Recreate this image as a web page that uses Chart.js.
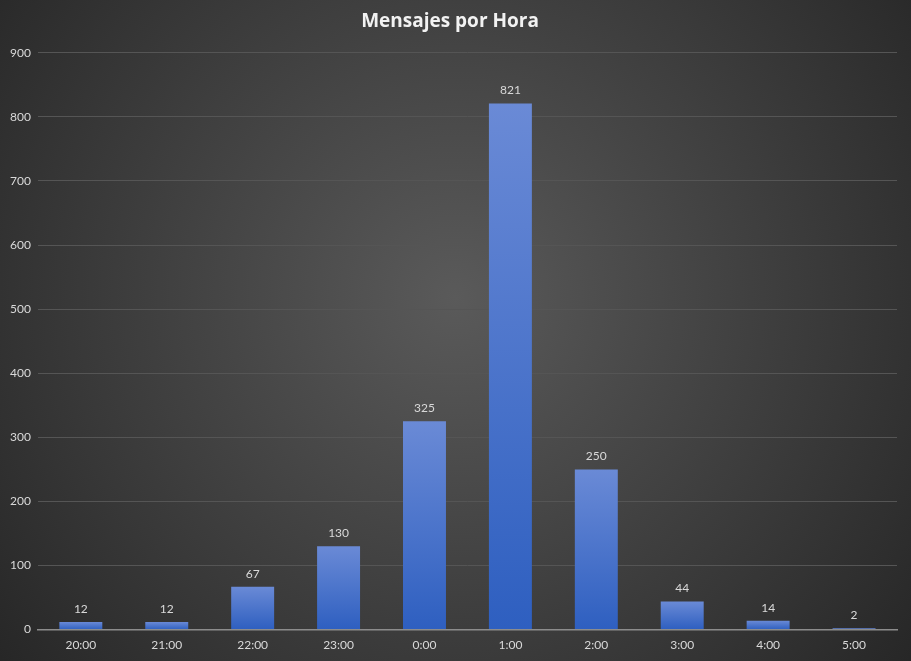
<!DOCTYPE html>
<html><head><meta charset="utf-8">
<script src="https://cdn.jsdelivr.net/npm/chart.js@4/dist/chart.umd.min.js"></script>
<style>html,body{margin:0;padding:0;background:#2b2b2b;}canvas{display:block;}</style>
</head><body>
<canvas id="c" width="911" height="661"></canvas>
<script>
const categories = ["20:00","21:00","22:00","23:00","0:00","1:00","2:00","3:00","4:00","5:00"];
const messages = [12,12,67,130,325,821,250,44,14,2];
const chartTitle = "Mensajes por Hora";

const bgPlugin = {
  id:'bg',
  beforeDraw(chart){
    const {ctx,width,height}=chart;
    ctx.save();
    const g=ctx.createRadialGradient(width*0.5,height*0.45,0,width*0.5,height*0.45,Math.max(width,height)*0.65);
    g.addColorStop(0,'#5a5a5a');
    g.addColorStop(1,'#262626');
    ctx.fillStyle=g;
    ctx.fillRect(0,0,width,height);
    ctx.restore();
  }
};
const labelPlugin = {
  id:'vals',
  afterDatasetsDraw(chart){
    const {ctx}=chart;
    const meta=chart.getDatasetMeta(0);
    ctx.save();
    ctx.font='12px Lato, "Open Sans", sans-serif';
    ctx.fillStyle='#d9d9d9';
    ctx.textAlign='center';
    ctx.textBaseline='bottom';
    meta.data.forEach((el,i)=>{
      ctx.fillText(String(messages[i]),el.x,el.y-7);
    });
    ctx.restore();
  }
};
function barFill(context){
  const chart=context.chart;
  const ys=chart.scales.y;
  if(!ys||context.type!=='data') return '#4472c4';
  const top=ys.getPixelForValue(context.parsed.y);
  const bot=ys.getPixelForValue(0);
  if(!isFinite(top)||!isFinite(bot)||top===bot) return '#4472c4';
  const g=chart.ctx.createLinearGradient(0,top,0,bot);
  g.addColorStop(0,'#6a8ad6');
  g.addColorStop(1,'#2e5fc0');
  return g;
}
new Chart(document.getElementById('c'),{
  type:'bar',
  data:{labels:categories,datasets:[{data:messages,backgroundColor:barFill,borderWidth:0,categoryPercentage:1,barPercentage:0.5}]},
  options:{
    responsive:false,animation:false,devicePixelRatio:1,
    layout:{padding:{left:3,right:14,top:6,bottom:1}},
    plugins:{
      legend:{display:false},tooltip:{enabled:false},
      title:{display:true,text:chartTitle,color:'#f2f2f2',font:{family:'"Open Sans", Lato, sans-serif',size:19,weight:'bold'},padding:{top:4,bottom:20}}
    },
    scales:{
      x:{grid:{display:false,drawTicks:false},border:{color:'#8c8c8c',width:1.5},ticks:{color:'#d9d9d9',font:{family:'Lato, "Open Sans", sans-serif',size:12},padding:8}},
      y:{min:0,max:900,ticks:{stepSize:100,color:'#d9d9d9',font:{family:'Lato, "Open Sans", sans-serif',size:12},padding:7},grid:{color:'#555555',drawTicks:false},border:{display:false}}
    }
  },
  plugins:[bgPlugin,labelPlugin]
});
</script>
</body></html>
